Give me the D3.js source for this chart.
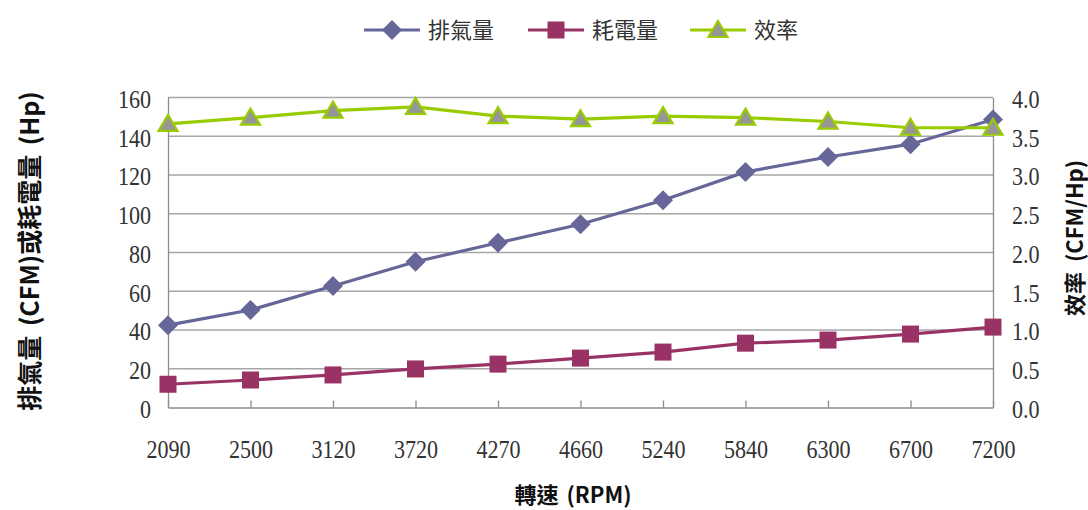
<!DOCTYPE html>
<html>
<head>
<meta charset="utf-8">
<script src="https://cdn.jsdelivr.net/npm/d3@7"></script>
<style>
  body { margin: 0; background: #fff; }
  svg { display: block; }
</style>
</head>
<body>
<div id="main"></div>
<script>
// data
var rpm = ["2090", "2500", "3120", "3720", "4270", "4660", "5240", "5840", "6300", "6700", "7200"];
var exhaust = [42.5, 50.3, 62.7, 75.2, 85.0, 94.6, 107.0, 121.6, 129.3, 135.9, 148.6];
var power = [12.0, 14.2, 16.8, 19.9, 22.4, 25.5, 28.6, 33.2, 34.8, 37.9, 41.5];
var efficiency = [3.66, 3.74, 3.83, 3.88, 3.76, 3.72, 3.76, 3.74, 3.69, 3.61, 3.61];
var leftTicks = [0, 20, 40, 60, 80, 100, 120, 140, 160];
var rightTicks = [0, 0.5, 1, 1.5, 2, 2.5, 3, 3.5, 4];

var W = 1088, H = 510;
var plot = {left: 168, right: 993, top: 97.5, bottom: 407.5};

var svg = d3.select("#main")
  .append("svg")
    .attr("width", W)
    .attr("height", H);

var xScale = d3.scalePoint()
  .domain(rpm)
  .range([plot.left, plot.right]);

var yLeft = d3.scaleLinear()
  .domain([0, 160])
  .range([plot.bottom, plot.top]);

var yRight = d3.scaleLinear()
  .domain([0, 4])
  .range([plot.bottom, plot.top]);

var tickFont = "'Liberation Serif', 'DejaVu Serif', serif";
var cjkFont = "'Noto Sans CJK TC', 'Noto Sans', sans-serif";
var squeeze = 0.85;   // tick digits are narrow and tall in the original

function styleTicks(g, xOff, yAttr, dy) {
  g.selectAll("text")
    .attr("x", xOff / squeeze)
    .attr("dy", dy)
    .attr("transform", "scale(" + squeeze + ",1)")
    .style("font-family", tickFont)
    .style("font-size", "26px")
    .style("fill", "#333");
  if (yAttr !== null) g.selectAll("text").attr("y", yAttr);
}

// gridlines
svg.append("g")
  .selectAll("line")
  .data(leftTicks.slice(1))
  .enter()
  .append("line")
    .attr("x1", plot.left)
    .attr("x2", plot.right)
    .attr("y1", function(d) { return yLeft(d); })
    .attr("y2", function(d) { return yLeft(d); })
    .style("stroke", "#a6a6a6")
    .style("stroke-width", 1.3);

// left axis
var gl = svg.append("g")
  .attr("transform", "translate(" + plot.left + ",0)")
  .call(d3.axisLeft(yLeft).tickValues(leftTicks).tickSize(0));
gl.select(".domain").style("stroke", "#8c8c8c").style("stroke-width", 1.3);
styleTicks(gl, -17, null, "0.38em");

// right axis
var gr = svg.append("g")
  .attr("transform", "translate(" + plot.right + ",0)")
  .call(d3.axisRight(yRight).tickValues(rightTicks).tickFormat(d3.format(".1f")).tickSize(0));
gr.select(".domain").style("stroke", "#8c8c8c").style("stroke-width", 1.3);
styleTicks(gr, 19, null, "0.38em");

// bottom axis, ticks point into the plot
var gb = svg.append("g")
  .attr("transform", "translate(0," + plot.bottom + ")")
  .call(d3.axisBottom(xScale).tickSize(-7).tickSizeOuter(0));
gb.select(".domain").style("stroke", "#8c8c8c").style("stroke-width", 1.3);
gb.selectAll(".tick line").style("stroke", "#8c8c8c").style("stroke-width", 1.3);
styleTicks(gb, 0, 51, null);

// series
var series = [
  {name: "排氣量", values: exhaust, scale: yLeft, color: "#666699", shape: "diamond"},
  {name: "耗電量", values: power, scale: yLeft, color: "#993366", shape: "square"},
  {name: "效率", values: efficiency, scale: yRight, color: "#99cc00", shape: "triangle"}
];

function marker(g, shape, color) {
  if (shape === "diamond") {
    g.append("path")
      .attr("d", "M0,-10L10,0L0,10L-10,0Z")
      .attr("fill", color);
  } else if (shape === "square") {
    g.append("rect")
      .attr("x", -8.5).attr("y", -8.5)
      .attr("width", 17).attr("height", 17)
      .attr("fill", color);
  } else {
    g.append("path")
      .attr("d", "M0,-9L9.5,7L-9.5,7Z")
      .attr("fill", "#969696")
      .attr("stroke", color)
      .attr("stroke-width", 2.2)
      .attr("stroke-linejoin", "miter");
  }
}

var line = d3.line();

series.forEach(function(s) {
  var pts = s.values.map(function(v, i) { return [xScale(rpm[i]), s.scale(v)]; });
  svg.append("path")
    .attr("d", line(pts))
    .attr("fill", "none")
    .attr("stroke", s.color)
    .attr("stroke-width", 3.2);
});

series.forEach(function(s) {
  svg.append("g")
    .selectAll("g")
    .data(s.values)
    .enter()
    .append("g")
      .attr("transform", function(d, i) {
        return "translate(" + xScale(rpm[i]) + "," + s.scale(d) + ")";
      })
      .each(function() { marker(d3.select(this), s.shape, s.color); });
});

// legend
var legendX = [364, 528, 690];
series.forEach(function(s, i) {
  var g = svg.append("g").attr("transform", "translate(" + legendX[i] + ",30)");
  g.append("line")
    .attr("x1", 0).attr("x2", 56)
    .attr("stroke", s.color)
    .attr("stroke-width", 3.2);
  marker(g.append("g").attr("transform", "translate(28,0)"), s.shape, s.color);
  g.append("text")
    .attr("x", 64)
    .attr("y", 8)
    .style("font-family", cjkFont)
    .style("font-size", "22px")
    .style("fill", "#333")
    .text(s.name);
});

// axis titles
svg.append("text")
  .attr("transform", "translate(39,251)rotate(-90)")
  .style("text-anchor", "middle")
  .style("font-family", cjkFont)
  .style("font-weight", "bold")
  .style("font-size", "25px")
  .style("word-spacing", "4px")
  .style("fill", "#111")
  .text("排氣量 (CFM)或耗電量 (Hp)");

svg.append("text")
  .attr("transform", "translate(1083,238)rotate(-90)")
  .style("text-anchor", "middle")
  .style("font-family", cjkFont)
  .style("font-weight", "bold")
  .style("font-size", "22px")
  .style("word-spacing", "5px")
  .style("fill", "#111")
  .text("效率 (CFM/Hp)");

svg.append("text")
  .attr("x", 573)
  .attr("y", 503)
  .style("text-anchor", "middle")
  .style("font-family", cjkFont)
  .style("font-weight", "bold")
  .style("font-size", "22px")
  .style("word-spacing", "3px")
  .style("fill", "#111")
  .text("轉速 (RPM)");
</script>
</body>
</html>
